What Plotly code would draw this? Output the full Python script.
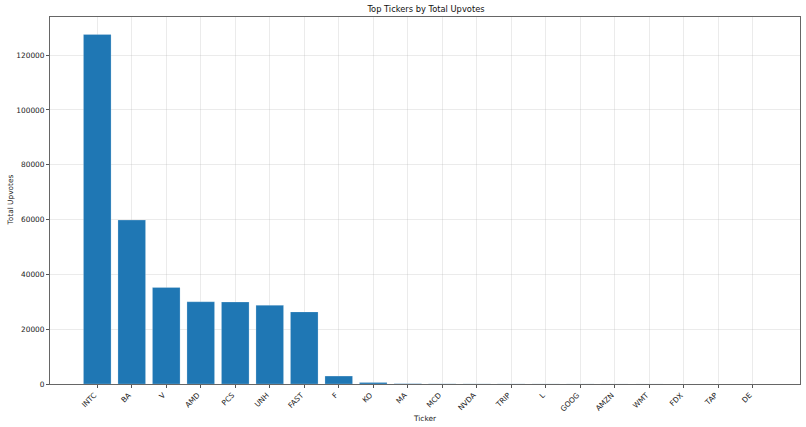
import plotly.graph_objects as go

tickers = ["INTC", "BA", "V", "AMD", "PCS", "UNH", "FAST", "F", "KO", "MA",
           "MCD", "NVDA", "TRIP", "L", "GOOG", "AMZN", "WMT", "FDX", "TAP", "DE"]
upvotes = [127500, 59800, 35200, 30000, 29900, 28700, 26300, 2900, 550, 120,
           60, 45, 35, 30, 25, 20, 15, 12, 10, 8]

fig = go.Figure()

fig.add_trace(go.Bar(
    x=list(range(len(tickers))),
    y=upvotes,
    width=0.8,
    marker=dict(color="#1f77b4", line=dict(color="rgba(255,255,255,0.35)", width=0.6)),
))

axis_font = dict(family="DejaVu Sans", size=7.4, color="#222")
grid = "rgba(176,176,176,0.25)"

fig.update_layout(
    width=806,
    height=427,
    margin=dict(l=50, r=6, t=17, b=43),
    plot_bgcolor="white",
    paper_bgcolor="white",
    showlegend=False,
    title=dict(text="Top Tickers by Total Upvotes", x=426 / 806,
               xanchor="center", y=1 - 9 / 427, yanchor="middle",
               font=dict(family="DejaVu Sans", size=8.3, color="#111")),
    font=dict(family="DejaVu Sans"),
)

# axis titles placed by hand, matplotlib style
fig.add_annotation(text="Ticker", xref="paper", yref="paper", x=0.5, y=-34 / 367,
                   yanchor="middle", showarrow=False,
                   font=dict(family="DejaVu Sans", size=7.4, color="#222"))
fig.add_annotation(text="Total Upvotes", xref="paper", yref="paper", x=-40 / 750, y=0.5,
                   xanchor="center", textangle=-90, showarrow=False,
                   font=dict(family="DejaVu Sans", size=7.4, color="#222"))

fig.update_xaxes(
    range=[-1.37, 20.37],
    tickmode="array",
    tickvals=list(range(len(tickers))),
    ticktext=tickers,
    tickangle=-45,
    tickfont=axis_font,
    ticklabelshift=-3,
    ticks="outside", ticklen=3, tickcolor="#555",
    showgrid=True, gridcolor=grid, gridwidth=0.8,
    showline=True, linecolor="#666", linewidth=1, mirror=True,
    zeroline=False,
    automargin=False,
    layer="above traces",
)

fig.update_yaxes(
    range=[0, 133900],
    tickvals=[0, 20000, 40000, 60000, 80000, 100000, 120000],
    ticktext=["0", "20000", "40000", "60000", "80000", "100000", "120000"],
    tickfont=axis_font,
    ticks="outside", ticklen=3, tickcolor="#555",
    showgrid=True, gridcolor=grid, gridwidth=0.8,
    showline=True, linecolor="#666", linewidth=1, mirror=True,
    zeroline=False,
    automargin=False,
    layer="above traces",
)

# drop the browser's default body margin so the figure sits at the page corner
fig.write_html("out.html", config={"displayModeBar": False},
               post_script="document.body.style.margin='0';")
